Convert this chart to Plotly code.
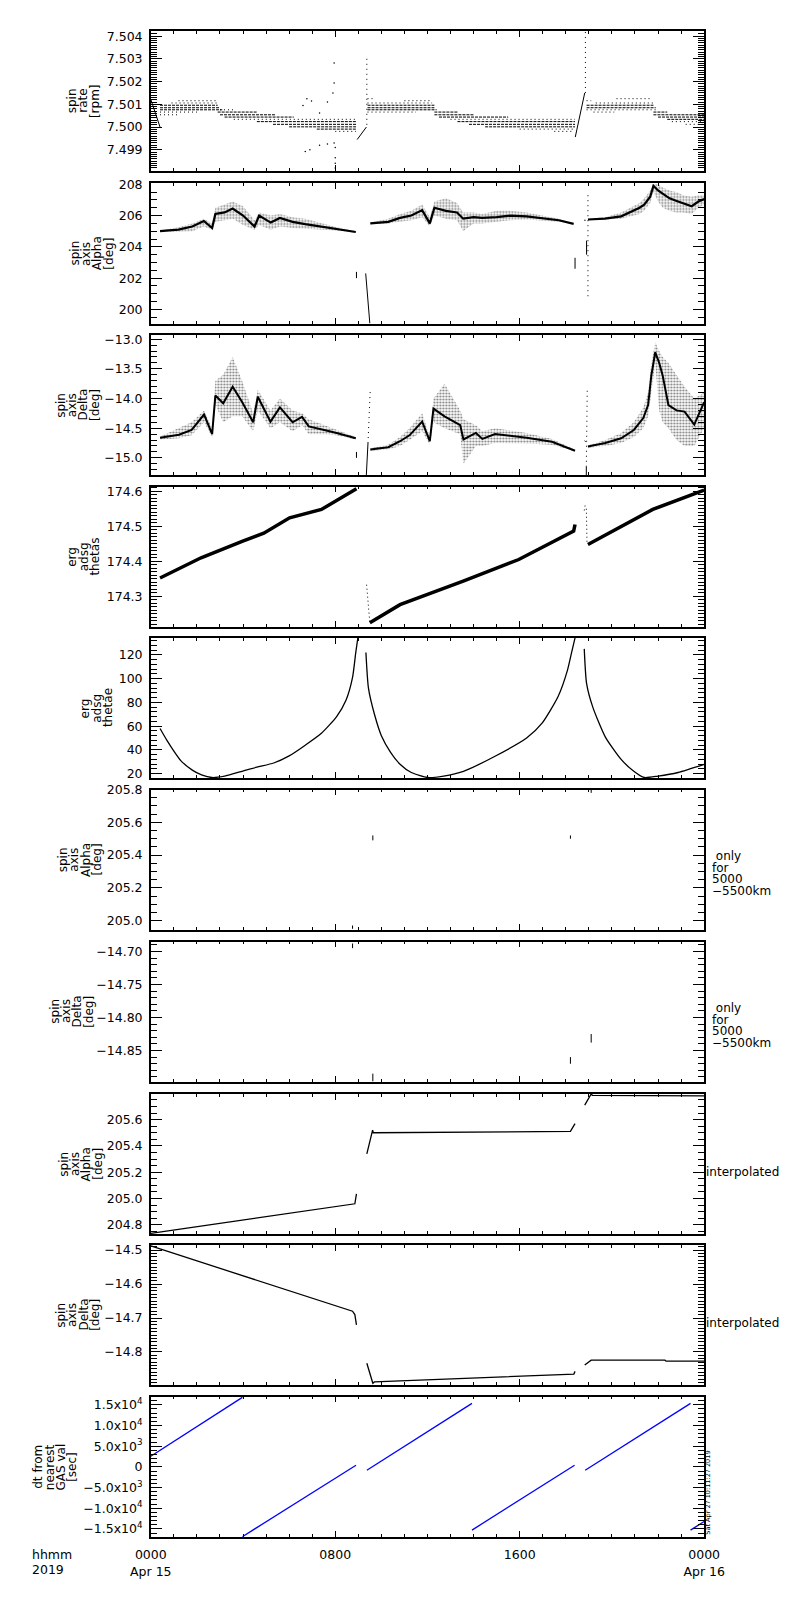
import plotly.graph_objects as go

# time axis: hours after 2019-04-15 00:00 UT
hour_ticks = [0, 8, 16, 24]
hour_labels = ["0000<br>Apr 15", "0800", "1600", "0000<br>Apr 16"]

# ---- panel 1: spin rate [rpm] (quantised values -> rows of dots) ----
rate_rows_t0 = [0.4, 0.4, 0.4, 2.9, 3.0, 3.2, 4.6, 5.3, 6.0, 7.2,
                9.4, 9.4, 9.4, 12.3, 12.3, 12.5, 13.3, 13.8, 14.5,
                18.9, 18.9, 21.8, 21.8, 22.0, 22.4]
rate_rows_t1 = [2.9, 3.0, 3.1, 4.6, 5.4, 6.2, 8.9, 8.9, 8.9, 8.9,
                12.3, 12.3, 12.4, 13.3, 14.0, 15.5, 18.4, 18.4, 18.4,
                21.8, 21.9, 22.4, 24.0, 24.0, 24.0]
rate_rows_v = [7.50096, 7.50085, 7.50076, 7.50066, 7.50054, 7.50044, 7.50024, 7.50012, 7.50001, 7.49991,
               7.50096, 7.50085, 7.50076, 7.50066, 7.50054, 7.50044, 7.50024, 7.50012, 7.50001,
               7.50096, 7.50085, 7.50066, 7.50054, 7.50044, 7.50034]
rate_sparse_t0 = [1.2, 0.9, 0.4, 0.4, 3.0, 3.6, 8.0,
                  9.4, 11.0, 9.4, 9.4, 13.0, 16.0, 17.5,
                  18.9, 20.2, 19.3, 18.9, 19.2, 22.6, 23.2]
rate_sparse_t1 = [2.9, 2.9, 2.0, 1.2, 3.6, 8.9, 8.9,
                  9.7, 12.2, 12.2, 11.5, 18.4, 18.4, 18.3,
                  19.1, 21.7, 21.8, 22.0, 20.1, 24.0, 24.0]
rate_sparse_v = [7.50116, 7.50106, 7.50066, 7.50054, 7.50076, 7.50034, 7.49981,
                 7.50125, 7.50116, 7.50106, 7.50066, 7.50034, 7.49991, 7.49981,
                 7.50116, 7.50125, 7.50106, 7.50076, 7.50066, 7.50024, 7.50012]
rate_line_t = [0.0, 0.4, None, 8.95, 9.35, None, 18.41, 18.82]
rate_line_v = [7.50122, 7.50000, None, 7.49945, 7.50000, None, 7.49956, 7.50150]
rate_spike_t = [9.37, 9.37, None, 18.85, 18.85]
rate_spike_v = [7.50010, 7.50305, None, 7.50150, 7.50420]
rate_out_t = [6.60, 6.70, 6.77, 6.90, 6.97, 7.32, 7.32, 7.66, 7.66, 7.90, 7.95, 7.95, 7.95, 8.00, 8.00, 8.00, 8.00]
rate_out_v = [7.50095, 7.49893, 7.50125, 7.49900, 7.50115, 7.50062, 7.49920, 7.49925, 7.50110,
              7.50150, 7.50282, 7.50194, 7.49930, 7.49910, 7.49865, 7.49841, 7.49820]

# ---- panel 2: spin axis Alpha [deg] (centre of the dot cloud and its edges) ----
alpha_t = [[0.4, 1.2, 1.8, 2.3, 2.66, 2.8, 3.2, 3.55, 4.0, 4.5, 4.7, 5.2, 5.6, 6.15, 6.7, 7.4, 8.06, 8.89],
           [9.52, 10.3, 10.81, 11.3, 11.77, 12.1, 12.3, 12.8, 13.28, 13.55, 14.0, 14.37, 15.0, 15.6, 16.3, 16.97, 17.7, 18.34],
           [18.96, 19.7, 20.4, 20.95, 21.2, 21.4, 21.66, 21.8, 22.0, 22.2, 22.5, 22.78, 23.1, 23.46, 23.75, 24.0]]
alpha_c = [[205.0, 205.1, 205.3, 205.65, 205.2, 206.1, 206.2, 206.45, 206.0, 205.3, 206.0, 205.55, 205.85, 205.6, 205.45, 205.3, 205.15, 204.95],
           [205.5, 205.6, 205.85, 206.0, 206.35, 205.5, 206.5, 206.3, 206.2, 205.8, 205.9, 205.85, 205.9, 206.0, 205.95, 205.85, 205.7, 205.47],
           [205.75, 205.8, 205.95, 206.3, 206.5, 206.7, 207.2, 207.9, 207.6, 207.4, 207.1, 206.95, 206.8, 206.6, 206.9, 207.05]]
alpha_lo = [[204.95, 204.95, 205.0, 205.3, 205.1, 205.6, 205.7, 205.8, 205.4, 205.1, 205.4, 205.1, 205.3, 205.2, 205.2, 205.1, 205.05, 204.9],
            [205.45, 205.5, 205.6, 205.7, 205.9, 205.3, 206.0, 205.8, 205.7, 205.0, 205.5, 205.5, 205.6, 205.7, 205.75, 205.7, 205.6, 205.45],
            [205.7, 205.75, 205.8, 206.0, 206.1, 206.3, 206.8, 207.5, 206.9, 206.5, 206.3, 206.2, 206.2, 206.1, 206.5, 206.7]]
alpha_hi = [[205.05, 205.25, 205.5, 205.8, 205.5, 206.5, 206.7, 206.9, 206.6, 205.7, 206.2, 206.0, 206.1, 205.9, 205.8, 205.5, 205.25, 205.0],
            [205.55, 205.8, 206.1, 206.3, 206.7, 205.9, 206.9, 207.1, 206.8, 206.2, 206.2, 206.1, 206.3, 206.3, 206.2, 206.0, 205.8, 205.5],
            [205.8, 205.9, 206.2, 206.6, 206.8, 207.1, 207.6, 208.0, 208.0, 207.8, 207.6, 207.5, 207.3, 207.2, 207.3, 207.3]]
alpha_mark_t = [8.92, 8.92, None, 9.32, 9.50, None, 18.40, 18.40, None, 18.80, 18.86, None, 18.90, 18.90]
alpha_mark_v = [202.0, 202.4, None, 202.3, 199.1, None, 202.6, 203.3, None, 205.7, 205.7, None, 204.4, 203.5]
alpha_dots_t = [18.96, 18.96]
alpha_dots_v = [207.3, 200.8]

# ---- panel 3: spin axis Delta [deg] ----
delta_t = [[0.4, 1.22, 1.77, 2.31, 2.66, 2.8, 3.14, 3.55, 3.96, 4.44, 4.64, 5.19, 5.6, 6.15, 6.56, 6.85, 7.52, 8.06, 8.89],
           [9.52, 10.3, 10.81, 11.22, 11.77, 12.1, 12.26, 12.74, 13.42, 13.56, 14.1, 14.38, 14.93, 16.3, 17.4, 18.4],
           [18.96, 19.71, 20.4, 20.95, 21.36, 21.57, 21.71, 21.88, 22.05, 22.2, 22.45, 22.8, 23.15, 23.57, 24.0]]
delta_c = [[-14.66, -14.61, -14.53, -14.27, -14.6, -13.95, -14.08, -13.8, -14.06, -14.4, -13.97, -14.39, -14.15, -14.4, -14.31, -14.47, -14.53, -14.58, -14.67],
           [-14.86, -14.82, -14.72, -14.62, -14.39, -14.72, -14.17, -14.3, -14.45, -14.69, -14.58, -14.68, -14.6, -14.66, -14.73, -14.88],
           [-14.81, -14.75, -14.67, -14.53, -14.33, -14.11, -13.61, -13.22, -13.4, -13.61, -14.11, -14.2, -14.22, -14.44, -14.06]]
delta_lo = [[-14.69, -14.67, -14.62, -14.4, -14.65, -14.1, -14.4, -14.3, -14.3, -14.55, -14.2, -14.5, -14.4, -14.55, -14.45, -14.6, -14.6, -14.62, -14.69],
            [-14.88, -14.86, -14.8, -14.7, -14.55, -14.78, -14.4, -14.5, -14.6, -15.1, -14.8, -14.8, -14.75, -14.76, -14.78, -14.89],
            [-14.83, -14.8, -14.75, -14.65, -14.5, -14.3, -13.9, -13.4, -14.2, -14.4, -14.5, -14.7, -14.8, -14.8, -14.5]]
delta_hi = [[-14.64, -14.5, -14.4, -14.2, -14.5, -13.7, -13.6, -13.3, -13.7, -14.25, -13.85, -14.2, -14.0, -14.2, -14.25, -14.35, -14.45, -14.53, -14.65],
            [-14.84, -14.78, -14.65, -14.5, -14.25, -14.65, -14.0, -13.75, -14.2, -14.35, -14.45, -14.55, -14.5, -14.58, -14.68, -14.86],
            [-14.79, -14.7, -14.58, -14.4, -14.15, -13.9, -13.4, -13.05, -13.2, -13.3, -13.4, -13.6, -13.8, -14.0, -13.9]]
delta_mark_t = [8.92, 8.92, None, 9.34, 9.42, None, 18.82, 18.86, None, 18.89, 18.89]
delta_mark_v = [-14.90, -15.00, None, -15.35, -14.75, None, -14.71, -14.73, None, -15.35, -15.15]
delta_dots_t = [9.42, 9.52, None, 18.89, 18.93]
delta_dots_v = [-14.75, -13.83, None, -15.15, -13.83]

# ---- panel 4: erg adsg thetas ----
thetas_t = [0.4, 2.18, 3.96, 4.9, 6.02, 7.4, 8.92, None,
            9.5, 10.81, 13.55, 15.96, 18.34, 18.4, None,
            18.96, 20.4, 21.77, 24.0]
thetas_v = [174.352, 174.41, 174.457, 174.48, 174.524, 174.548, 174.607, None,
            174.224, 174.276, 174.343, 174.405, 174.486, 174.505, None,
            174.448, 174.5, 174.548, 174.603]
thetas_dots_t = [9.36, 9.5, None, 18.89, 18.92, None, 18.80, 18.84]
thetas_dots_v = [174.333, 174.224, None, 174.55, 174.448, None, 174.545, 174.56]

# ---- panel 5: erg adsg thetae ----
thetae_t = [0.4, 0.7, 1.0, 1.3, 1.8, 2.2, 2.65, 3.2, 3.96, 4.6, 5.33, 6.0, 6.7, 7.4, 8.06, 8.47, 8.75, 8.89, 8.98, None,
            9.33, 9.44, 9.7, 10.0, 10.4, 10.81, 11.3, 12.0, 12.7, 13.56, 14.93, 16.3, 16.97, 17.66, 18.07, 18.27, 18.4, None,
            18.8, 18.9, 19.17, 19.71, 20.4, 20.95, 21.4, 22.0, 22.87, 24.0]
thetae_v = [58, 48, 39, 31, 23, 19, 16.8, 18, 22, 25.5, 29, 35, 44, 54, 68, 82, 101, 122, 134.2, None,
            122, 92, 70, 52, 38, 28, 21, 16.8, 18, 22, 34.7, 50, 62.5, 84.7, 106.9, 123.6, 134.2, None,
            125, 96, 76, 51, 32, 22, 16.8, 18, 21, 27.8]

# ---- panels 6/7: spin axis Alpha/Delta only for 5000-5500 km ----
alpha_r_t = [8.75, 8.75, None, 9.63, 9.63, None, 18.2, 18.2, None, 19.1, 19.1]
alpha_r_v = [204.95, 204.97, None, 205.49, 205.52, None, 205.50, 205.52, None, 205.78, 205.80]
delta_r_t = [8.75, 8.75, None, 9.63, 9.63, None, 18.2, 18.2, None, 19.1, 19.1]
delta_r_v = [-14.688, -14.695, None, -14.885, -14.897, None, -14.86, -14.87, None, -14.825, -14.838]

# ---- panels 8/9: interpolated spin axis ----
alpha_i_t = [0.0, 8.75, 8.85, 8.92, None, 9.37, 9.62, 9.65, 18.2, 18.4, None,
             18.82, 19.1, 19.15, 22.3, 22.35, 24.0]
alpha_i_v = [204.735, 204.954, 204.96, 205.035, None, 205.34, 205.52, 205.50, 205.51, 205.57, None,
             205.71, 205.795, 205.785, 205.785, 205.78, 205.78]
delta_i_t = [0.0, 8.75, 8.85, 8.92, None, 9.37, 9.63, 9.7, 18.2, 18.35, 18.4, None,
             18.82, 19.1, 22.3, 22.35, 24.0]
delta_i_v = [-14.488, -14.68, -14.69, -14.72, None, -14.833, -14.892, -14.888, -14.867, -14.865, -14.857, None,
             -14.838, -14.824, -14.824, -14.827, -14.827]

# ---- panel 10: dt from nearest GAS val [sec] ----
dt_t = [0.0, 3.97, None, 3.97, 8.9, None, 9.37, 13.93, None, 13.93, 18.38, None, 18.84, 23.41, None, 23.41, 24.0]
dt_v = [2560, 16800, None, -16880, 400, None, -800, 15360, None, -15280, 400, None, -800, 15360, None, -15280, -13200]
dt_tickvals = [-15000, -10000, -5000, 0, 5000, 10000, 15000]
dt_ticktext = ["−1.5x10<sup>4</sup>", "−1.0x10<sup>4</sup>", "−5.0x10<sup>3</sup>", "0",
               "5.0x10<sup>3</sup>", "1.0x10<sup>4</sup>", "1.5x10<sup>4</sup>"]

titles = [["spin", "rate", "[rpm]"],
          ["spin", "axis", "Alpha", "[deg]"],
          ["spin", "axis", "Delta", "[deg]"],
          ["erg", "adsg", "thetas"],
          ["erg", "adsg", "thetae"],
          ["spin", "axis", "Alpha", "[deg]"],
          ["spin", "axis", "Delta", "[deg]"],
          ["spin", "axis", "Alpha", "[deg]"],
          ["spin", "axis", "Delta", "[deg]"],
          ["dt from", "nearest", "GAS val", "[sec]"]]
side_alt = [" only", "for", "5000", "−5500km"]
side_interp = "interpolated"
stamp = "Sat Apr 27 10:11:27 2019"

# ---------------- layout ----------------
W, H = 800, 1600
X0, X1 = 137, 721
TOPS = [23.3, 176.7, 329.3, 482, 634.3, 787, 940, 1093.5, 1245.5, 1398.3]
PH = 141
FONT = "DejaVu Sans"

# y ranges, major step, tick0, minor step, format
AXES = [
    ([7.49806, 7.50422], 0.001, 7.499, 0.0001, ".3f"),
    ([199.1, 208.05], 2, 200, 0.5, "d"),
    ([-15.29, -12.93], 0.5, -15, 0.1, ".1f"),
    ([174.213, 174.613], 0.1, 174.3, 0.01, ".1f"),
    ([16.4, 134.2], 20, 20, 4, "d"),
    ([204.945, 205.8], 0.2, 205.0, 0.05, ".1f"),
    ([-14.897, -14.685], 0.05, -14.85, 0.01, ".2f"),
    ([204.73, 205.795], 0.2, 204.8, 0.05, ".1f"),
    ([-14.897, -14.485], 0.1, -14.8, 0.01, ".1f"),
    ([-16880, 16970], None, 0, 1000, None),
]
TITLE_LAST = [78, 92, 78, 78, 92, 80, 71, 81, 78, 54]
TITLE_GAP = 12

fig = go.Figure()


def ax(i):
    return ("x", "y") if i == 1 else (f"x{i}", f"y{i}")


def add(i, x, y, **kw):
    xa, ya = ax(i)
    fig.add_trace(go.Scatter(x=x, y=y, xaxis=xa, yaxis=ya, showlegend=False,
                             hoverinfo="skip", **kw))


def rows(t0, t1, v):
    xs, ys = [], []
    for a, b, c in zip(t0, t1, v):
        xs += [a, b, None]
        ys += [c, c, None]
    return xs, ys


def cloud(i, ts, cs, los, his, core_w):
    for t, c, lo, hi in zip(ts, cs, los, his):
        add(i, t + t[::-1], hi + lo[::-1], mode="lines", line=dict(width=0),
            fill="toself", fillcolor="rgba(0,0,0,0)",
            fillpattern=dict(shape=".", fgcolor="black", bgcolor="rgba(0,0,0,0)",
                             size=3, solidity=0.4))
        add(i, t, c, mode="lines", line=dict(color="black", width=core_w))


BLACK = dict(color="black", width=1)

# panel 1
x, y = rows(rate_rows_t0, rate_rows_t1, rate_rows_v)
add(1, x, y, mode="lines", line=dict(color="black", width=1, dash="3px,1px"))
x, y = rows(rate_sparse_t0, rate_sparse_t1, rate_sparse_v)
add(1, x, y, mode="lines", line=dict(color="black", width=1, dash="1px,3px"))
add(1, rate_line_t, rate_line_v, mode="lines", line=BLACK)
add(1, rate_spike_t, rate_spike_v, mode="lines", line=dict(color="black", width=1, dash="1px,4px"))
add(1, rate_out_t, rate_out_v, mode="markers", marker=dict(color="black", size=1.5))

# panel 2
cloud(2, alpha_t, alpha_c, alpha_lo, alpha_hi, 2.2)
add(2, alpha_mark_t, alpha_mark_v, mode="lines", line=BLACK)
add(2, alpha_dots_t, alpha_dots_v, mode="lines", line=dict(color="black", width=1, dash="1px,4px"))

# panel 3
cloud(3, delta_t, delta_c, delta_lo, delta_hi, 2)
add(3, delta_mark_t, delta_mark_v, mode="lines", line=BLACK)
add(3, delta_dots_t, delta_dots_v, mode="lines", line=dict(color="black", width=1, dash="1px,4px"))

# panel 4
add(4, thetas_t, thetas_v, mode="lines", line=dict(color="black", width=3.5))
add(4, thetas_dots_t, thetas_dots_v, mode="lines", line=dict(color="black", width=1, dash="1px,3px"))

# panel 5
add(5, thetae_t, thetae_v, mode="lines", line=dict(color="black", width=1.3, shape="spline", smoothing=0.6))

# panels 6-9
add(6, alpha_r_t, alpha_r_v, mode="lines", line=BLACK)
add(7, delta_r_t, delta_r_v, mode="lines", line=BLACK)
add(8, alpha_i_t, alpha_i_v, mode="lines", line=dict(color="black", width=1.3))
add(9, delta_i_t, delta_i_v, mode="lines", line=dict(color="black", width=1.3))

# panel 10
add(10, dt_t, dt_v, mode="lines", line=dict(color="#0000ff", width=1.3))

annotations = []
layout = {}
for i, (rng, dtk, t0, mn, fmt) in enumerate(AXES, 1):
    top = TOPS[i - 1]
    dom = [1 - (top + PH) / H, 1 - top / H]
    xname = "xaxis" if i == 1 else f"xaxis{i}"
    yname = "yaxis" if i == 1 else f"yaxis{i}"
    xa, ya = ax(i)
    layout[xname] = dict(
        domain=[X0 / W, X1 / W], range=[0, 24], anchor=ya,
        tickvals=hour_ticks, ticktext=hour_labels, showticklabels=(i == 10),
        ticks="inside", ticklen=6, tickwidth=1, tickcolor="black",
        minor=dict(dtick=1, tick0=0, ticks="inside", ticklen=3, tickwidth=1, tickcolor="black"),
        showline=True, linecolor="black", linewidth=1.5, mirror="allticks",
        showgrid=False, zeroline=False, fixedrange=True, ticklabelstandoff=6,
        tickfont=dict(family=FONT, size=12.5, color="black"),
    )
    yd = dict(
        domain=dom, range=rng, anchor=xa,
        ticks="inside", ticklen=11, tickwidth=1, tickcolor="black",
        minor=dict(dtick=mn, tick0=t0, ticks="inside", ticklen=6, tickwidth=1, tickcolor="black"),
        showline=True, linecolor="black", linewidth=1.5, mirror="allticks",
        showgrid=False, zeroline=False, fixedrange=True, ticklabelstandoff=4,
        tickfont=dict(family=FONT, size=12.5, color="black"),
    )
    if dtk is None:
        yd.update(tickvals=dt_tickvals, ticktext=dt_ticktext)
    else:
        yd.update(dtick=dtk, tick0=t0, tickformat=fmt)
    layout[yname] = yd

    # rotated, stacked y titles
    lines = titles[i - 1]
    ymid = 1 - (top + PH / 2) / H
    n = len(lines)
    for k, txt in enumerate(lines):
        xc = TITLE_LAST[i - 1] - (n - 1 - k) * TITLE_GAP
        annotations.append(dict(text=txt, x=xc / W, y=ymid, xref="paper", yref="paper",
                                xanchor="center", yanchor="middle", textangle=-90,
                                showarrow=False, font=dict(family=FONT, size=12, color="black")))

# right-hand notes
for i in (6, 7):
    top = TOPS[i - 1]
    for k, txt in enumerate(side_alt):
        annotations.append(dict(text=txt, x=727 / W, y=1 - (top + 67 + 11.7 * k) / H,
                                xref="paper", yref="paper", xanchor="left", yanchor="middle",
                                showarrow=False, font=dict(family=FONT, size=12, color="black")))
for i in (8, 9):
    top = TOPS[i - 1]
    annotations.append(dict(text=side_interp, x=X1 / W, y=1 - (top + 79) / H,
                            xref="paper", yref="paper", xanchor="left", yanchor="middle",
                            showarrow=False, font=dict(family=FONT, size=12, color="black")))

# bottom-left time label, level with the hour labels
for k, txt in enumerate(["hhmm", "2019"]):
    annotations.append(dict(text=txt, x=9 / W, y=1 - (1557 + 15 * k) / H, xref="paper", yref="paper",
                            xanchor="left", yanchor="middle", showarrow=False,
                            font=dict(family=FONT, size=12.5, color="black")))

# creation stamp
annotations.append(dict(text=stamp, x=725 / W, y=1 - 1495 / H, xref="paper", yref="paper",
                        xanchor="center", yanchor="middle", textangle=-90, showarrow=False,
                        font=dict(family=FONT, size=6.5, color="black")))

fig.update_layout(
    width=W, height=H, margin=dict(l=0, r=0, t=0, b=0),
    paper_bgcolor="white", plot_bgcolor="white",
    annotations=annotations, **layout,
)

fig.write_html("out.html", config={"displayModeBar": False},
               post_script="document.body.style.margin='0';")
